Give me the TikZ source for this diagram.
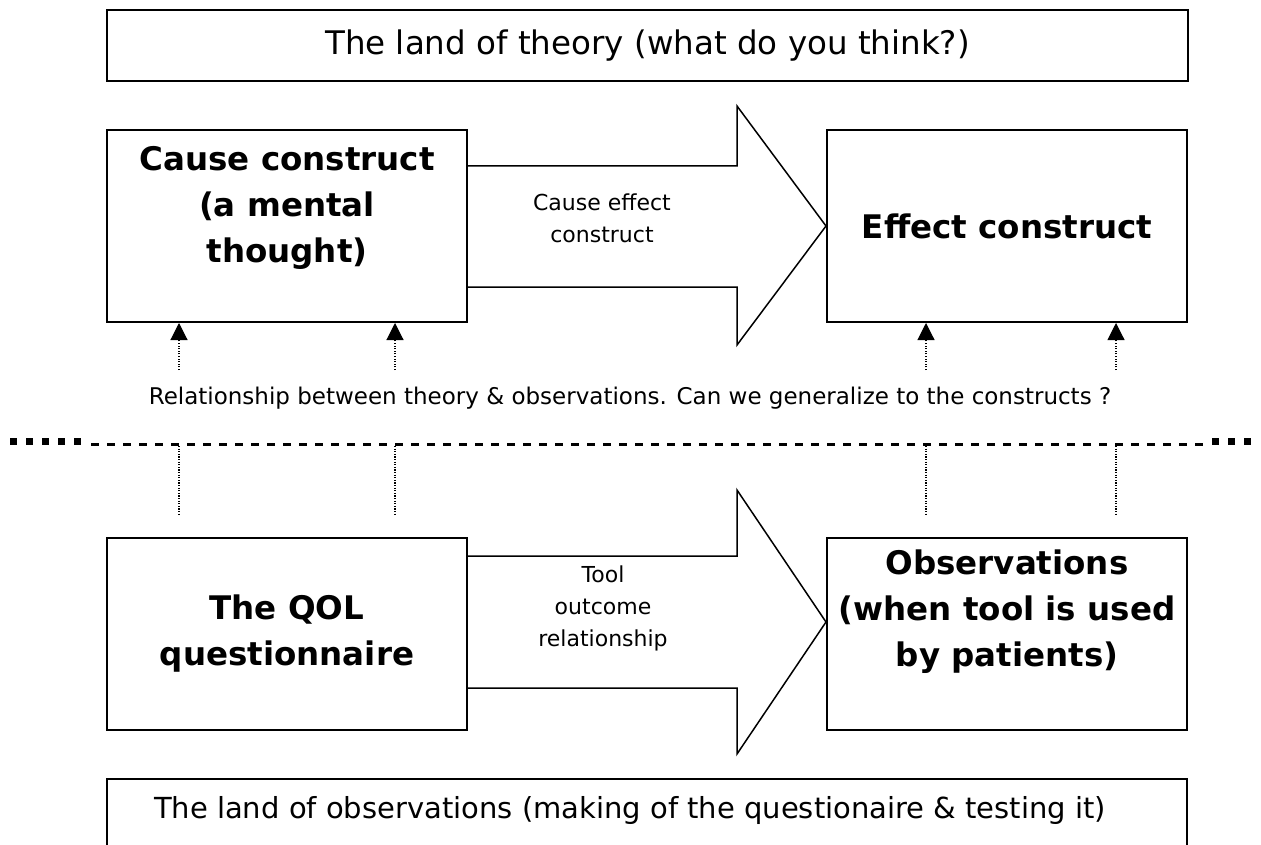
\documentclass[tikz,border=0pt]{standalone}
\usepackage{fontspec}
\setmainfont{DejaVu Sans}
\usetikzlibrary{arrows.meta,calc}
\begin{document}
\begin{tikzpicture}[x=1pt,y=-1pt,
  box/.style={draw, line width=2pt, inner sep=0pt},
  big/.style={font=\fontsize{32.5}{46}\selectfont\bfseries, align=center},
  small/.style={font=\fontsize{22}{32}\selectfont, align=center},
  title/.style={font=\fontsize{32.5}{35}\selectfont},
  blockarrow/.style={draw, line width=1.5pt, line join=miter},
  dotline/.style={line width=1.1pt, dash pattern=on 1.1pt off 1.5pt},
  uparrow/.style={dotline, -{Triangle[length=17pt,width=17pt]}},
  sqdash/.style={line width=6.7pt, dash pattern=on 6.5pt off 9.5pt},
  thindash/.style={line width=3pt, dash pattern=on 7.5pt off 8.5pt}]
\clip (0,0) rectangle (1261,845);
\fill[white] (0,0) rectangle (1261,845);
% top land box
\node[box, title, minimum width=1081pt, minimum height=71pt] (theory) at (647.5,45.5) {The land of theory (what do you think?)};
% construct boxes
\node[box, minimum width=360pt, minimum height=192pt,
  label={[big, yshift=18pt]center:{Cause construct\\(a mental\\thought)}}] (cause) at (287,226) {};
\node[box, big, minimum width=360pt, minimum height=192pt] (effect) at (1007,226) {Effect construct};
% observation boxes
\node[box, big, minimum width=360pt, minimum height=192pt] (qol) at (287,634) {The QOL\\questionnaire};
\node[box, minimum width=360pt, minimum height=192pt,
  label={[big, yshift=22pt]center:{Observations\\(when tool is used\\by patients)}}] (obs) at (1007,634) {};
% bottom land box
\node[box, minimum width=1080pt, minimum height=100pt,
  label={[font=\fontsize{29}{35}\selectfont, yshift=19pt, xshift=-17pt]center:{The land of observations (making of the questionaire \& testing it)}}] (obsland) at (647,829) {};
% block arrows
\draw[blockarrow] ($(cause.east)+(0,-60)$) -- (737,166) -- (737,106) -- (effect.west) -- (737,345) -- (737,287) -- ($(cause.east)+(0,61)$);
\coordinate (tip2) at ($(obs.west)+(0,-12)$);
\draw[blockarrow] ($(qol.east)+(0,-78)$) -- (737,556) -- (737,490) -- (tip2) -- (737,754) -- (737,688) -- ($(qol.east)+(0,54)$);
% arrow labels
\node[small] (ce) at (602,218) {Cause effect\\construct};
\node[small] (toc) at (603,608) {Tool\\outcome\\relationship};
% relationship text
\node[small, font=\fontsize{23}{32}\selectfont] (rel) at (630,398) {Relationship between theory \& observations. Can we generalize to the constructs ?};
% separator
\coordinate (s1) at (10,441.5); \coordinate (s2) at (83,441.5);
\coordinate (s3) at (91,444); \coordinate (s4) at (1205,444);
\coordinate (s5) at (1212,441.5); \coordinate (s6) at (1252,441.5);
\draw[sqdash] (s1) -- (s2);
\draw[thindash] (s3) -- (s4);
\draw[sqdash] (s5) -- (s6);
% dotted links
\foreach \i/\x in {1/179,2/395,3/926,4/1116}{
  \coordinate (d\i a) at (\x,446);
  \coordinate (d\i b) at (\x,515);
  \coordinate (u\i a) at (\x,370);
  \coordinate (u\i b) at (\x,323);
  \draw[dotline] (d\i a) -- (d\i b);
  \draw[uparrow] (u\i a) -- (u\i b);
}
\end{tikzpicture}
\end{document}
